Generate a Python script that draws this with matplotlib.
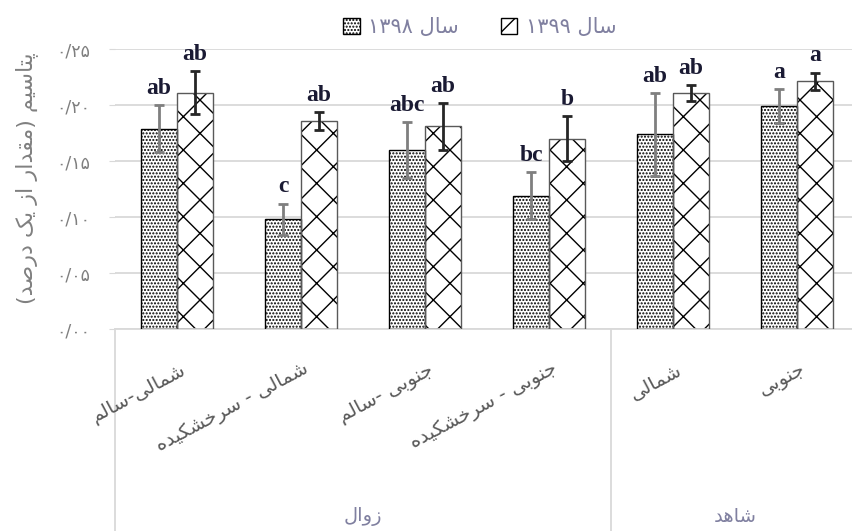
import re
import numpy as np
import matplotlib
matplotlib.use('Agg')
import matplotlib.pyplot as plt
from matplotlib.patches import Patch

categories = ['شمالی-سالم', 'شمالی - سرخشکیده', 'جنوبی -سالم', 'جنوبی - سرخشکیده', 'شمالی', 'جنوبی']
group_names = ['زوال', 'شاهد']
group_sizes = [4, 2]
series_names = ['سال ۱۳۹۸', 'سال ۱۳۹۹']

k_1398 = [0.179, 0.098, 0.160, 0.119, 0.174, 0.199]
err_1398 = [0.021, 0.014, 0.025, 0.021, 0.037, 0.015]
k_1399 = [0.211, 0.186, 0.181, 0.170, 0.211, 0.221]
err_1399 = [0.019, 0.008, 0.021, 0.020, 0.007, 0.008]
letters_1398 = ['ab', 'c', 'abc', 'bc', 'ab', 'a']
letters_1399 = ['ab', 'ab', 'ab', 'b', 'ab', 'a']
yticks = [0.0, 0.05, 0.10, 0.15, 0.20, 0.25]

# presentation forms: isolated, final, initial, medial
FORMS = {
    'ا': '\uFE8D\uFE8E\uFE8D\uFE8E',
    'ب': '\uFE8F\uFE90\uFE91\uFE92',
    'پ': '\uFB56\uFB57\uFB58\uFB59',
    'ت': '\uFE95\uFE96\uFE97\uFE98',
    'ج': '\uFE9D\uFE9E\uFE9F\uFEA0',
    'خ': '\uFEA5\uFEA6\uFEA7\uFEA8',
    'د': '\uFEA9\uFEAA\uFEA9\uFEAA',
    'ر': '\uFEAD\uFEAE\uFEAD\uFEAE',
    'ز': '\uFEAF\uFEB0\uFEAF\uFEB0',
    'س': '\uFEB1\uFEB2\uFEB3\uFEB4',
    'ش': '\uFEB5\uFEB6\uFEB7\uFEB8',
    'ص': '\uFEB9\uFEBA\uFEBB\uFEBC',
    'ق': '\uFED5\uFED6\uFED7\uFED8',
    'ک': '\uFB8E\uFB8F\uFB90\uFB91',
    'ل': '\uFEDD\uFEDE\uFEDF\uFEE0',
    'م': '\uFEE1\uFEE2\uFEE3\uFEE4',
    'ن': '\uFEE5\uFEE6\uFEE7\uFEE8',
    'ه': '\uFEE9\uFEEA\uFEEB\uFEEC',
    'و': '\uFEED\uFEEE\uFEED\uFEEE',
    'ی': '\uFBFC\uFBFD\uFBFE\uFBFF',
}
RIGHT_ONLY = set('ادذرزژو')


def fa(text):
    # join letters, then lay the string out left to right
    shaped = []
    for i, ch in enumerate(text):
        if ch not in FORMS:
            shaped.append(ch)
            continue
        prev = text[i - 1] if i > 0 else ''
        nxt = text[i + 1] if i + 1 < len(text) else ''
        a = prev in FORMS and prev not in RIGHT_ONLY
        b = nxt in FORMS and ch not in RIGHT_ONLY
        f = FORMS[ch]
        shaped.append(f[3] if a and b else f[1] if a else f[2] if b else f[0])
    vis = ''.join(shaped)[::-1].translate(str.maketrans('()', ')('))
    return re.sub('[۰-۹]+', lambda m: m.group()[::-1], vis)


def fa_num(v):
    return f'{v:.2f}'.translate(str.maketrans('0123456789.', '۰۱۲۳۴۵۶۷۸۹/'))


plt.rcParams['font.family'] = ['DejaVu Sans']
plt.rcParams['hatch.linewidth'] = 1.0

fig = plt.figure(figsize=(8.52, 5.31), dpi=100)
ax = fig.add_axes([115 / 852, 202 / 531, 744 / 852, 280 / 531])

x = np.arange(len(categories))
w = 0.29
grid_c = '#d9d9d9'

ax.bar(x - w / 2, k_1398, w, color='white', edgecolor='black', hatch='.....', lw=0, zorder=2)
ax.bar(x - w / 2, k_1398, w, fill=False, edgecolor='black', lw=1.0, zorder=3)
ax.errorbar(x - w / 2, k_1398, yerr=err_1398, fmt='none', ecolor='#7f7f7f',
            elinewidth=2, capsize=3.5, capthick=2, zorder=4)

ax.bar(x + w / 2, k_1399, w, color='white', edgecolor='black', hatch='x', lw=0, zorder=2)
ax.bar(x + w / 2, k_1399, w, fill=False, edgecolor='#595959', lw=1.0, zorder=3)
ax.errorbar(x + w / 2, k_1399, yerr=err_1399, fmt='none', ecolor='#262626',
            elinewidth=2, capsize=3.5, capthick=2, zorder=4)

# significance letters
for xs, vals, errs, lets in [(x - w / 2, k_1398, err_1398, letters_1398),
                             (x + w / 2, k_1399, err_1399, letters_1399)]:
    for xi, v, e, t in zip(xs, vals, errs, lets):
        ax.annotate(t, (xi, v + e), xytext=(0, 8), textcoords='offset points',
                    ha='center', va='baseline', fontsize=17, fontweight='bold',
                    family='Liberation Serif', color='#1a1a33')

ax.set_xlim(-0.5, len(categories) - 0.5)
ax.set_ylim(0, 0.25)
ax.set_yticks(yticks)
ax.set_yticklabels([fa_num(v) for v in yticks])
ax.tick_params(axis='y', length=4, color=grid_c, pad=14, labelsize=12.5, labelcolor='#7f7f7f')
ax.set_xticks([])
ax.grid(axis='y', color=grid_c, lw=1.3, zorder=0)
ax.set_axisbelow(True)
for s in ['top', 'right', 'left']:
    ax.spines[s].set_visible(False)
ax.spines['bottom'].set_color(grid_c)
ax.spines['bottom'].set_linewidth(1.3)

ax.set_ylabel(fa('پتاسیم (مقدار از یک درصد)'), fontsize=16, color='#808080')
ax.yaxis.set_label_coords(-0.104, 0.54)

# two-level category axis
tr = ax.get_xaxis_transform()
for xi, name in zip(x, categories):
    ax.text(xi + 0.02, -0.11, fa(name), transform=tr, rotation=28, rotation_mode='anchor',
            ha='right', va='top', fontsize=14, color='#595959')

start = -0.5
ax.plot([start, start], [0, -0.73], transform=tr, color=grid_c, lw=1.3, clip_on=False)
for name, n in zip(group_names, group_sizes):
    end = start + n
    ax.plot([end, end], [0, -0.73], transform=tr, color=grid_c, lw=1.3, clip_on=False)
    ax.text((start + end) / 2, -0.67, fa(name), transform=tr, ha='center', va='center',
            fontsize=14, color='#8080a0')
    start = end

handles = [Patch(facecolor='white', edgecolor='black', hatch='.....'),
           Patch(facecolor='white', edgecolor='black', hatch='x')]
fig.legend(handles, [fa(s) for s in series_names], loc='center', ncol=2,
           bbox_to_anchor=(0.563, 0.949), frameon=False, fontsize=15,
           handlelength=0.8, handleheight=0.8, handletextpad=0.4, columnspacing=2.0,
           labelcolor='#8080a0')

fig.savefig('out.png', dpi=100)
